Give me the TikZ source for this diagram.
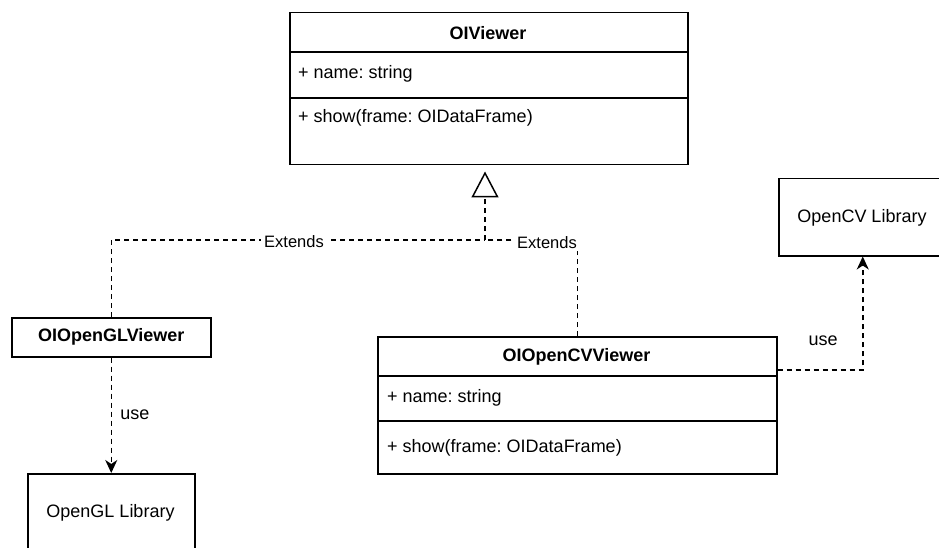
\documentclass[tikz,border=0pt]{standalone}
\usepackage{fontspec}
\setmainfont{Liberation Sans}
\usetikzlibrary{arrows.meta}
\frenchspacing
\begin{document}
\begin{tikzpicture}[x=1pt, y=-1pt,
  every node/.style={font=\fontsize{18}{21}\selectfont, text=black},
  box/.style={draw, line width=1.5pt, inner sep=0pt, anchor=north west},
  rule/.style={line width=1.5pt},
  title/.style={font=\fontsize{18}{21}\selectfont\bfseries},
  field/.style={anchor=west, inner sep=0pt},
  lbl/.style={font=\fontsize{16.5}{19}\selectfont, fill=white, inner xsep=3pt, inner ysep=2pt},
  dashline/.style={line width=1.5pt, dash pattern=on 5pt off 4pt},
  uses/.style={dashline, -{Stealth[length=13pt, width=12pt, inset=4pt]}},
  extends/.style={dashline, -{Triangle[open, length=26pt, width=27pt, line width=1.5pt]}, shorten >=6pt}
]
\useasboundingbox (0,0) rectangle (939,548);
\clip (0,0) rectangle (939,548);

% base class
\node[box, minimum width=398pt, minimum height=152pt] (viewer) at (289,12) {};
\draw[rule] ([yshift=-40pt]viewer.north west) -- ([yshift=-40pt]viewer.north east);
\draw[rule] ([yshift=-86pt]viewer.north west) -- ([yshift=-86pt]viewer.north east);
\node[title] (viewerT) at (488,33) {OIViewer};
\node[field] (viewerA) at (298,74) {+ name: string};
\node[field] (viewerM) at (298,118) {+ show(frame: OIDataFrame)};

% OpenGL viewer
\node[box, minimum width=199pt, minimum height=39pt] (glv) at (11,317) {};
\node[title] (glvT) at (glv.center) {OIOpenGLViewer};

% OpenCV viewer
\node[box, minimum width=399pt, minimum height=137pt] (cvv) at (377,336) {};
\draw[rule] ([yshift=-40pt]cvv.north west) -- ([yshift=-40pt]cvv.north east);
\draw[rule] ([yshift=-85pt]cvv.north west) -- ([yshift=-85pt]cvv.north east);
\node[title] (cvvT) at (576.5,357) {OIOpenCVViewer};
\node[field] (cvvA) at (387,398) {+ name: string};
\node[field] (cvvM) at (387,448) {+ show(frame: OIDataFrame)};

% libraries
\node[box, minimum width=167pt, minimum height=80pt] (gll) at (27,473) {};
\node (gllT) at (110.5,513) {OpenGL Library};
\node[box, minimum width=168pt, minimum height=77pt] (cvl) at (778,178) {};
\node (cvlT) at (862,218) {OpenCV Library};

% inheritance
\coordinate (junc) at (485,240);
\draw[dashline] (glv.north) |- (junc);
\draw[dashline] (cvv.north) |- (junc);
\draw[extends] (junc) -- (junc |- viewer.south);
\node[lbl] (ext1) at (294,242) {Extends};
\node[lbl] (ext2) at (547,243) {Extends};

% dependencies
\draw[uses] (glv.south) -- (gll.north);
\node (use1) at (135,415) {use};
\draw[uses] ([yshift=-34pt]cvv.north east) -| (cvl.south);
\node (use2) at (823,341) {use};
\end{tikzpicture}
\end{document}
